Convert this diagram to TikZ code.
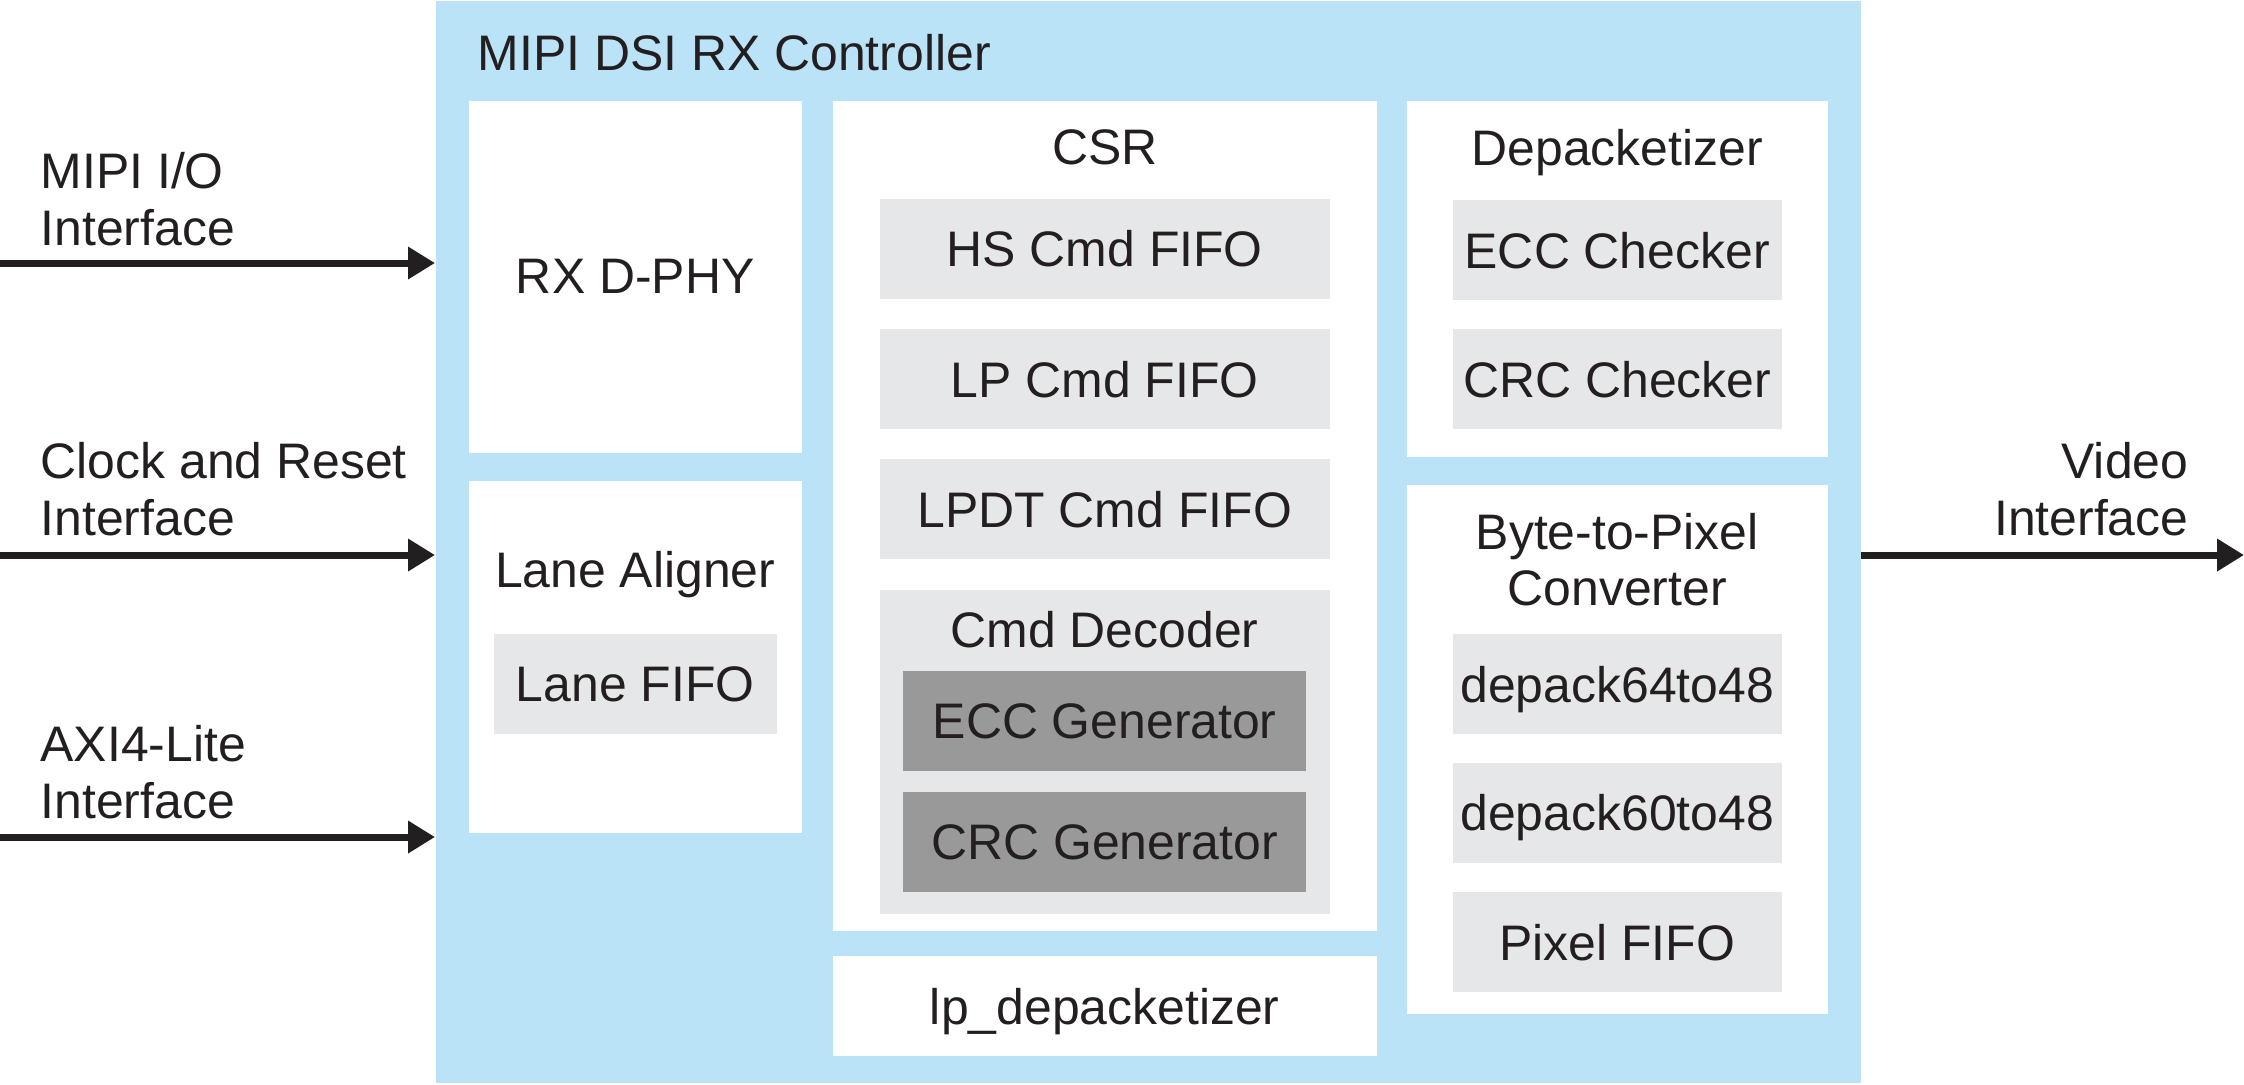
\documentclass[tikz,border=0pt]{standalone}
\usepackage{fontspec}
\setmainfont{Liberation Sans}
\usetikzlibrary{arrows.meta,positioning}
\definecolor{ctrlblue}{RGB}{187,227,248}
\definecolor{subgray}{RGB}{230,231,232}
\definecolor{gengray}{RGB}{153,153,153}
\definecolor{inktext}{RGB}{35,31,32}
\tikzstyle{block}=[fill=white, inner sep=0pt, text depth=0pt]
\tikzstyle{sub}=[fill=subgray, inner sep=0pt, text depth=0pt, minimum height=1cm]
\tikzstyle{gen}=[fill=gengray, inner sep=0pt, text depth=0pt, minimum width=4.03cm, minimum height=1cm]
\tikzstyle{caption}=[inner sep=0pt, text depth=0pt, align=center]
\tikzstyle{io}=[inner sep=0pt, anchor=west, align=left]
\tikzstyle{bus}=[line width=2pt, draw=inktext, -{Triangle[length=2.7mm,width=3.1mm]}]

\begin{document}
\begin{tikzpicture}[node distance=0.29cm,font=\fontsize{14.2}{16.2}\selectfont,text=inktext]
    \useasboundingbox (0,0) rectangle (22.44,-10.84);
    \node [block,fill=ctrlblue,anchor=north west,minimum width=14.25cm,minimum height=10.82cm] (ctrl) at (4.35,0) {};
    \node [caption,anchor=west] (ctrllbl) at (4.77,-0.52) {MIPI DSI RX Controller};

    % left column
    \node [block,anchor=north west,minimum width=3.33cm,minimum height=3.52cm] (dphy) at (4.68,-1.00) {RX D-PHY};
    \node [block,below=0.27cm of dphy,minimum width=3.33cm,minimum height=3.52cm] (aligner) {};
    \node [caption] (alignerlbl) at ([yshift=-0.89cm]aligner.north) {Lane Aligner};
    \node [sub,minimum width=2.83cm] (lanefifo) at ([yshift=-2.04cm]aligner.north) {Lane FIFO};

    % CSR column
    \node [block,anchor=north west,minimum width=5.44cm,minimum height=8.30cm] (csr) at (8.32,-1.00) {};
    \node [caption] (csrlbl) at ([yshift=-0.47cm]csr.north) {CSR};
    \node [sub,minimum width=4.5cm] (hsfifo) at ([yshift=-1.485cm]csr.north) {HS Cmd FIFO};
    \node [sub,minimum width=4.5cm,below=of hsfifo] (lpfifo) {LP Cmd FIFO};
    \node [sub,minimum width=4.5cm,below=of lpfifo] (lpdtfifo) {LPDT Cmd FIFO};
    \node [sub,minimum width=4.5cm,minimum height=3.24cm,below=of lpdtfifo] (decoder) {};
    \node [caption] (decoderlbl) at ([yshift=-0.40cm]decoder.north) {Cmd Decoder};
    \node [gen] (eccgen) at ([yshift=-1.32cm]decoder.north) {ECC Generator};
    \node [gen,below=0.20cm of eccgen] (crcgen) {CRC Generator};
    \node [block,below=0.24cm of csr,minimum width=5.44cm,minimum height=1cm] (lpdepack) {lp\_depacketizer};

    % right column
    \node [block,anchor=north west,minimum width=4.21cm,minimum height=3.56cm] (depack) at (14.06,-1.00) {};
    \node [caption] (depacklbl) at ([yshift=-0.47cm]depack.north) {Depacketizer};
    \node [sub,minimum width=3.29cm] (eccchk) at ([yshift=-1.50cm]depack.north) {ECC Checker};
    \node [sub,minimum width=3.29cm,below=0.28cm of eccchk] (crcchk) {CRC Checker};
    \node [block,below=0.27cm of depack,minimum width=4.21cm,minimum height=5.29cm] (bytepix) {};
    \node [caption] (bytepixlbl) at ([yshift=-0.75cm]bytepix.north) {Byte-to-Pixel\\Converter};
    \node [sub,minimum width=3.29cm] (dep64) at ([yshift=-2.00cm]bytepix.north) {depack64to48};
    \node [sub,minimum width=3.29cm,below=0.27cm of dep64] (dep60) {depack60to48};
    \node [sub,minimum width=3.29cm,below=0.28cm of dep60] (pixfifo) {Pixel FIFO};

    % interfaces
    \node [io] (mipilbl) at (0.40,-1.99) {MIPI I/O\\Interface};
    \node [io] (clklbl) at (0.40,-4.895) {Clock and Reset\\Interface};
    \node [io] (axilbl) at (0.40,-7.72) {AXI4-Lite\\Interface};
    \node [io,anchor=east,align=right] (vidlbl) at (21.89,-4.895) {Video\\Interface};
    \coordinate (mipiin) at (0,-2.63);
    \coordinate (clkin) at (0,-5.55);
    \coordinate (axiin) at (0,-8.37);
    \coordinate (vidout) at (22.44,-5.55);
    \draw [bus] (mipiin) -- (mipiin -| ctrl.west);
    \draw [bus] (clkin) -- (clkin -| ctrl.west);
    \draw [bus] (axiin) -- (axiin -| ctrl.west);
    \draw [bus] (vidout -| ctrl.east) -- (vidout);
\end{tikzpicture}
\end{document}
